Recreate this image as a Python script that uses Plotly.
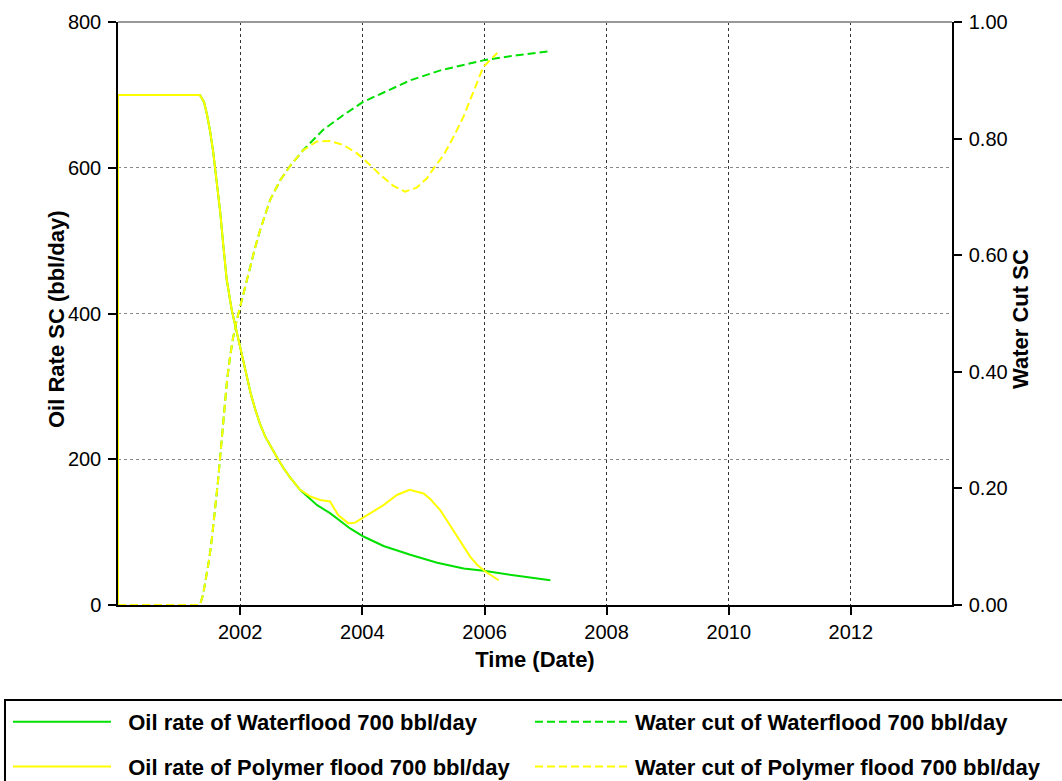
import plotly.graph_objects as go

# ---- Oil rate, waterflood (bbl/day) ----
wf_oil_dates = [
    "2000-01-01", "2000-01-01", "2001-05-05", "2001-05-30", "2001-06-17",
    "2001-07-05", "2001-07-23", "2001-08-10", "2001-09-03", "2001-09-22",
    "2001-10-12", "2001-11-11", "2001-12-10", "2002-01-01", "2002-01-20",
    "2002-02-10", "2002-03-04", "2002-03-31", "2002-04-30", "2002-05-31",
    "2002-06-30", "2002-08-10", "2002-09-14", "2002-10-26", "2002-12-25",
    "2003-04-06", "2003-06-22", "2003-10-20", "2004-01-08", "2004-05-07",
    "2004-10-14", "2005-03-24", "2005-08-29", "2005-12-27", "2006-07-15",
    "2007-01-30",
]
wf_oil = [
    0, 700, 700, 690, 672,
    650, 622, 590, 540, 493,
    447, 405, 376, 352, 333,
    313, 291, 269, 248, 231,
    218, 202, 189, 175, 158,
    137, 126, 105, 94, 81,
    69, 58, 50, 47, 40,
    34,
]

# ---- Oil rate, polymer flood (bbl/day) ----
pf_oil_dates = [
    "2000-01-01", "2000-01-01", "2001-05-05", "2001-05-30", "2001-06-17",
    "2001-07-05", "2001-07-23", "2001-08-10", "2001-09-03", "2001-09-22",
    "2001-10-12", "2001-11-11", "2001-12-10", "2002-01-01", "2002-01-20",
    "2002-02-10", "2002-03-04", "2002-03-31", "2002-04-30", "2002-05-31",
    "2002-06-30", "2002-08-10", "2002-09-14", "2002-10-26", "2002-12-25",
    "2003-02-23", "2003-04-24", "2003-06-22", "2003-08-11", "2003-10-10",
    "2003-11-19", "2004-01-08", "2004-03-08", "2004-05-07", "2004-07-26",
    "2004-10-10", "2005-01-02", "2005-02-12", "2005-04-12", "2005-05-30",
    "2005-07-21", "2005-10-08", "2005-11-19", "2006-01-06", "2006-03-27",
]
pf_oil = [
    0, 700, 700, 690, 672,
    650, 622, 590, 540, 493,
    447, 405, 376, 352, 333,
    313, 291, 269, 248, 231,
    218, 202, 189, 175, 158,
    149, 144, 142, 123, 112,
    113, 120, 128, 137, 151,
    158, 153, 145, 130, 113,
    94, 66, 55, 46, 34,
]

# ---- Water cut, waterflood (fraction) ----
wf_wc_dates = [
    "2000-01-01", "2001-05-05", "2001-05-24", "2001-06-11", "2001-06-29",
    "2001-07-16", "2001-08-03", "2001-08-21", "2001-09-08", "2001-09-26",
    "2001-10-14", "2001-11-01", "2001-11-19", "2001-12-10", "2002-01-01",
    "2002-01-31", "2002-03-01", "2002-03-31", "2002-04-30", "2002-05-30",
    "2002-06-29", "2002-08-27", "2002-10-26", "2003-01-12", "2003-05-12",
    "2003-09-08", "2004-01-06", "2004-10-14", "2005-04-12", "2006-01-06",
    "2006-07-15", "2007-01-30",
]
wf_wc = [
    0.0, 0.0, 0.018, 0.045, 0.078,
    0.115, 0.160, 0.212, 0.270, 0.330,
    0.385, 0.425, 0.458, 0.487, 0.512,
    0.548, 0.581, 0.613, 0.643, 0.670,
    0.695, 0.728, 0.753, 0.780, 0.815,
    0.840, 0.863, 0.900, 0.917, 0.935,
    0.943, 0.950,
]

# ---- Water cut, polymer flood (fraction) ----
pf_wc_dates = [
    "2000-01-01", "2001-05-05", "2001-05-24", "2001-06-11", "2001-06-29",
    "2001-07-16", "2001-08-03", "2001-08-21", "2001-09-08", "2001-09-26",
    "2001-10-14", "2001-11-01", "2001-11-19", "2001-12-10", "2002-01-01",
    "2002-01-31", "2002-03-01", "2002-03-31", "2002-04-30", "2002-05-30",
    "2002-06-29", "2002-08-27", "2002-10-26", "2003-01-12", "2003-04-04",
    "2003-06-22", "2003-09-10", "2003-11-29", "2004-01-28", "2004-04-17",
    "2004-07-05", "2004-09-13", "2004-11-22", "2005-01-22", "2005-03-03",
    "2005-05-02", "2005-06-30", "2005-08-29", "2005-10-08", "2005-11-19",
    "2005-12-25", "2006-03-19",
]
pf_wc = [
    0.0, 0.0, 0.018, 0.045, 0.078,
    0.115, 0.160, 0.212, 0.270, 0.330,
    0.385, 0.425, 0.458, 0.487, 0.512,
    0.548, 0.581, 0.613, 0.643, 0.670,
    0.695, 0.728, 0.753, 0.780, 0.795,
    0.796, 0.789, 0.775, 0.760, 0.738,
    0.719, 0.709, 0.716, 0.732, 0.749,
    0.772, 0.803, 0.838, 0.866, 0.897,
    0.923, 0.947,
]

# ---- Axis ticks and titles ----
x_tickvals = ["2002-01-01", "2004-01-01", "2006-01-01", "2008-01-01",
              "2010-01-01", "2012-01-01"]
x_ticktext = ["2002", "2004", "2006", "2008", "2010", "2012"]
y_tickvals = [0, 200, 400, 600, 800]
y2_tickvals = [0.0, 0.2, 0.4, 0.6, 0.8, 1.0]
y2_ticktext = ["0.00", "0.20", "0.40", "0.60", "0.80", "1.00"]
x_title = "Time (Date)"
y_title = "Oil Rate SC (bbl/day)"
y2_title = "Water Cut SC"

GREEN = "#00e000"
YELLOW = "#ffff00"
FONT = "Arial, Liberation Sans, sans-serif"
NB = "\u00a0\u00a0"

fig = go.Figure()
fig.add_trace(go.Scatter(
    x=wf_oil_dates, y=wf_oil, mode="lines", yaxis="y",
    name=NB + "Oil rate of Waterflood 700 bbl/day",
    line=dict(color=GREEN, width=2), legend="legend", legendgroup="a"))
fig.add_trace(go.Scatter(
    x=wf_wc_dates, y=wf_wc, mode="lines", yaxis="y2",
    name="Water cut of Waterflood 700 bbl/day",
    line=dict(color=GREEN, width=2, dash="8px,4px"),
    legend="legend2", legendgroup="b"))
fig.add_trace(go.Scatter(
    x=pf_oil_dates, y=pf_oil, mode="lines", yaxis="y",
    name=NB + "Oil rate of Polymer flood 700 bbl/day",
    line=dict(color=YELLOW, width=2), legend="legend", legendgroup="c"))
fig.add_trace(go.Scatter(
    x=pf_wc_dates, y=pf_wc, mode="lines", yaxis="y2",
    name="Water cut of Polymer flood 700 bbl/day",
    line=dict(color=YELLOW, width=2, dash="8px,4px"),
    legend="legend2", legendgroup="d"))

legend_common = dict(
    orientation="v", xanchor="left", yanchor="top",
    xref="paper", yref="container", y=0.1024,
    tracegroupgap=13,
    bgcolor="rgba(0,0,0,0)", borderwidth=0,
    font=dict(family=FONT, size=22, color="black", weight="bold"),
)

axis_title_font = dict(family=FONT, size=22, color="black", weight="bold")

fig.update_layout(
    template="none",
    width=1062, height=781,
    margin=dict(l=118, r=110, t=22, b=176, autoexpand=False),
    paper_bgcolor="white", plot_bgcolor="white",
    font=dict(family=FONT, size=20, color="black"),
    showlegend=True,
    legend=dict(x=-0.1319, itemwidth=98, **legend_common),
    legend2=dict(x=0.494, itemwidth=95, **legend_common),
    xaxis=dict(
        type="date", range=["2000-01-01", "2013-08-28"],
        tickvals=x_tickvals, ticktext=x_ticktext, automargin=False,
        showgrid=True, gridcolor="#333333", griddash="dot", gridwidth=1,
        showline=True, linecolor="black", linewidth=2,
        ticks="outside", ticklen=8, tickcolor="black", tickwidth=1.5,
        zeroline=False,
        title=dict(text=x_title, standoff=10, font=axis_title_font),
    ),
    yaxis=dict(
        range=[0, 800], tickvals=y_tickvals, automargin=False,
        showgrid=True, gridcolor="#888888", griddash="dot", gridwidth=1,
        showline=True, linecolor="black", linewidth=1.5,
        ticks="outside", ticklen=8, tickcolor="black", tickwidth=1.5,
        ticklabelstandoff=3, zeroline=False,
    ),
    yaxis2=dict(
        range=[0, 1], tickvals=y2_tickvals, ticktext=y2_ticktext,
        overlaying="y", side="right", showgrid=False, automargin=False,
        showline=True, linecolor="black", linewidth=1.5,
        ticks="outside", ticklen=8, tickcolor="black", tickwidth=1.5,
        ticklabelstandoff=3, zeroline=False,
    ),
    annotations=[
        # vertical axis titles, set close to their tick labels
        dict(text=y_title, textangle=-90, xref="paper", yref="paper",
             x=-0.0731, y=0.4906, xanchor="center", yanchor="middle",
             showarrow=False, font=axis_title_font),
        dict(text=y2_title, textangle=-90, xref="paper", yref="paper",
             x=1.0827, y=0.4906, xanchor="center", yanchor="middle",
             showarrow=False, font=axis_title_font),
    ],
    shapes=[
        # grey frame line along the top of the plotting area
        dict(type="line", xref="paper", yref="paper", x0=0, x1=1, y0=1, y1=1,
             line=dict(color="#999999", width=2), layer="above"),
        # legend box
        dict(type="rect", xref="paper", yref="paper",
             x0=-0.1355, x1=1.16, y0=-0.163, y1=-0.35,
             line=dict(color="black", width=2), layer="above"),
    ],
)

fig.write_html("out.html")
